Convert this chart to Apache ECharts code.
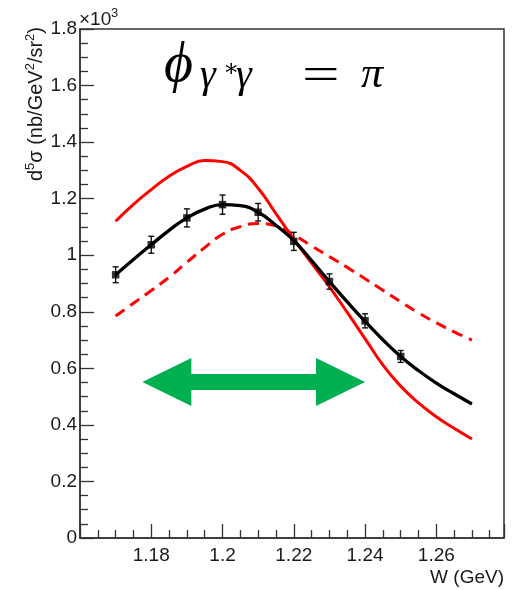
<!DOCTYPE html>
<html>
<head>
<meta charset="utf-8">
<script src="https://cdn.jsdelivr.net/npm/echarts@6/dist/echarts.min.js"></script>
<style>
  html, body { margin: 0; padding: 0; background: #ffffff; }
  #chart { width: 523px; height: 590px; }
</style>
</head>
<body>
<div id="chart"></div>
<script>
// Measured cross sections (in units of 10^3 nb/GeV^2/sr^2) with statistical errors
const W_POINTS     = [1.17, 1.18, 1.19, 1.20, 1.21, 1.22, 1.23, 1.24, 1.25];
const SIGMA_POINTS = [0.931, 1.037, 1.132, 1.179, 1.152, 1.049, 0.907, 0.768, 0.642];
const SIGMA_ERR    = [0.028, 0.030, 0.032, 0.034, 0.031, 0.032, 0.027, 0.025, 0.021];

// Curves sampled on a common W grid
const W_CURVE = [1.170, 1.175, 1.180, 1.185, 1.190, 1.195, 1.200, 1.205, 1.210, 1.215, 1.220,
                 1.225, 1.230, 1.235, 1.240, 1.245, 1.250, 1.255, 1.260, 1.265, 1.270];
const FIT_CURVE = [0.931, 0.985, 1.037, 1.088, 1.132, 1.163, 1.179, 1.175, 1.152, 1.106, 1.052,
                   0.981, 0.907, 0.835, 0.766, 0.701, 0.642, 0.592, 0.548, 0.510, 0.474];
const MODEL_SOLID = [1.120, 1.180, 1.232, 1.279, 1.314, 1.335, 1.331, 1.300, 1.237, 1.147, 1.057,
                     0.972, 0.888, 0.798, 0.705, 0.612, 0.537, 0.478, 0.429, 0.388, 0.350];
const MODEL_DASHED = [0.785, 0.830, 0.875, 0.922, 0.975, 1.027, 1.074, 1.101, 1.112, 1.104, 1.072,
                      1.033, 0.995, 0.957, 0.917, 0.876, 0.835, 0.796, 0.761, 0.729, 0.700];

// Double-headed arrow spanning a W range at a given height
const ARROW_W = [1.1775, 1.2400];
const ARROW_LEVEL = 0.552;

const SANS = '"Liberation Sans", Arial, Helvetica, sans-serif';
const SERIF = '"Liberation Serif", "DejaVu Serif", serif';
const AXIS_COLOR = '#333333';
const TEXT_COLOR = '#1a1a1a';

const pairs = (xs, ys) => xs.map((x, i) => [x, ys[i]]);

const chart = echarts.init(document.getElementById('chart'), null, { renderer: 'canvas' });

const option = {
  animation: false,
  backgroundColor: '#ffffff',
  grid: {
    left: 80, right: 19, top: 29, bottom: 52,
    show: true, borderColor: AXIS_COLOR, borderWidth: 1.5, backgroundColor: 'transparent'
  },
  xAxis: {
    type: 'value', min: 1.16, max: 1.279, interval: 0.02,
    axisLine: { show: true, onZero: false, lineStyle: { color: AXIS_COLOR, width: 1.5 } },
    axisTick: { show: true, inside: true, length: 14, lineStyle: { color: AXIS_COLOR, width: 1.3 } },
    minorTick: { show: true, splitNumber: 4, length: 8, lineStyle: { color: AXIS_COLOR, width: 1.3 } },
    splitLine: { show: false }, minorSplitLine: { show: false },
    axisLabel: {
      margin: 8, fontSize: 19, color: TEXT_COLOR, fontFamily: SANS,
      showMinLabel: false, showMaxLabel: false
    }
  },
  yAxis: {
    type: 'value', min: 0, max: 1.8, interval: 0.2,
    axisLine: { show: true, onZero: false, lineStyle: { color: AXIS_COLOR, width: 1.5 } },
    axisTick: { show: true, inside: true, length: 14, lineStyle: { color: AXIS_COLOR, width: 1.3 } },
    minorTick: { show: true, splitNumber: 4, length: 8, lineStyle: { color: AXIS_COLOR, width: 1.3 } },
    splitLine: { show: false }, minorSplitLine: { show: false },
    axisLabel: { margin: 3, fontSize: 19, color: TEXT_COLOR, fontFamily: SANS }
  },
  graphic: [
    // y-axis title, read bottom to top, ending at the top of the frame
    {
      type: 'text', x: 36, y: 27, rotation: Math.PI / 2,
      style: {
        text: '{b|d}{s|5}{b|σ (nb/GeV}{s|2}{b|/sr}{s|2}{b|)}',
        align: 'right', verticalAlign: 'middle',
        rich: {
          b: { fontSize: 20, fontFamily: SANS, fill: TEXT_COLOR, lineHeight: 24 },
          s: { fontSize: 13, fontFamily: SANS, fill: TEXT_COLOR, lineHeight: 24, verticalAlign: 'top' }
        }
      }
    },
    // axis multiplier ×10^3
    { type: 'text', x: 79, y: 29, style: { text: '×10', verticalAlign: 'bottom', fontSize: 19, fontFamily: SANS, fill: TEXT_COLOR } },
    { type: 'text', x: 111, y: 20, style: { text: '3', verticalAlign: 'bottom', fontSize: 13, fontFamily: SANS, fill: TEXT_COLOR } },
    // x-axis title
    {
      type: 'text', x: 504, y: 578,
      style: { text: 'W (GeV)', align: 'right', verticalAlign: 'middle', fontSize: 19, fontFamily: SANS, fill: TEXT_COLOR }
    },
    // in-plot label: φ_{γ*γ} = π
    { type: 'text', x: 164, y: 38, style: { text: 'ϕ', fontSize: 56, fontStyle: 'italic', fontFamily: SERIF, fill: '#000' } },
    { type: 'text', x: 200, y: 56, style: { text: 'γ', fontSize: 40, fontStyle: 'italic', fontFamily: SERIF, fill: '#000' } },
    { type: 'text', x: 223, y: 58, style: { text: '∗', fontSize: 24, fontFamily: SERIF, fill: '#000' } },
    { type: 'text', x: 236, y: 56, style: { text: 'γ', fontSize: 40, fontStyle: 'italic', fontFamily: SERIF, fill: '#000' } },
    { type: 'text', x: 302, y: 54, scaleX: 1.45, style: { text: '=', fontSize: 46, fontFamily: SERIF, fill: '#000' } },
    { type: 'text', x: 361, y: 53, style: { text: 'π', fontSize: 44, fontStyle: 'italic', fontFamily: SERIF, fill: '#000' } }
  ],
  series: [
    {
      name: 'model (dashed)', type: 'line', data: pairs(W_CURVE, MODEL_DASHED),
      showSymbol: false, smooth: 0.5, z: 2,
      lineStyle: { color: '#ff0000', width: 3, type: [11, 7] }
    },
    {
      name: 'model (solid)', type: 'line', data: pairs(W_CURVE, MODEL_SOLID),
      showSymbol: false, smooth: 0.5, z: 3,
      lineStyle: { color: '#ff0000', width: 3 }
    },
    {
      name: 'fit', type: 'line', data: pairs(W_CURVE, FIT_CURVE),
      showSymbol: false, smooth: 0.5, z: 4,
      lineStyle: { color: '#000000', width: 3.3 }
    },
    {
      name: 'error bars', type: 'custom', z: 5,
      data: W_POINTS.map((w, i) => [w, SIGMA_POINTS[i], SIGMA_ERR[i]]),
      renderItem: (params, api) => {
        const w = api.value(0), v = api.value(1), e = api.value(2);
        const hi = api.coord([w, v + e]);
        const lo = api.coord([w, v - e]);
        const cap = 3;
        const st = { stroke: '#111111', lineWidth: 1.4 };
        return {
          type: 'group',
          children: [
            { type: 'line', shape: { x1: hi[0], y1: hi[1], x2: lo[0], y2: lo[1] }, style: st },
            { type: 'line', shape: { x1: hi[0] - cap, y1: hi[1], x2: hi[0] + cap, y2: hi[1] }, style: st },
            { type: 'line', shape: { x1: lo[0] - cap, y1: lo[1], x2: lo[0] + cap, y2: lo[1] }, style: st }
          ]
        };
      }
    },
    {
      name: 'data', type: 'scatter', z: 6, data: pairs(W_POINTS, SIGMA_POINTS),
      symbol: 'rect', symbolSize: 7.5, itemStyle: { color: '#000000' }
    },
    {
      name: 'arrow', type: 'custom', z: 7,
      data: [[ARROW_W[0], ARROW_W[1], ARROW_LEVEL]],
      renderItem: (params, api) => {
        const a = api.coord([api.value(0), api.value(2)]);
        const b = api.coord([api.value(1), api.value(2)]);
        const head = 49, hh = 24, sh = 8, y = a[1];
        const points = [
          [a[0], y], [a[0] + head, y - hh], [a[0] + head, y - sh],
          [b[0] - head, y - sh], [b[0] - head, y - hh], [b[0], y],
          [b[0] - head, y + hh], [b[0] - head, y + sh],
          [a[0] + head, y + sh], [a[0] + head, y + hh]
        ];
        return { type: 'polygon', shape: { points }, style: { fill: '#00b050' } };
      }
    }
  ]
};

chart.setOption(option);
</script>
</body>
</html>
